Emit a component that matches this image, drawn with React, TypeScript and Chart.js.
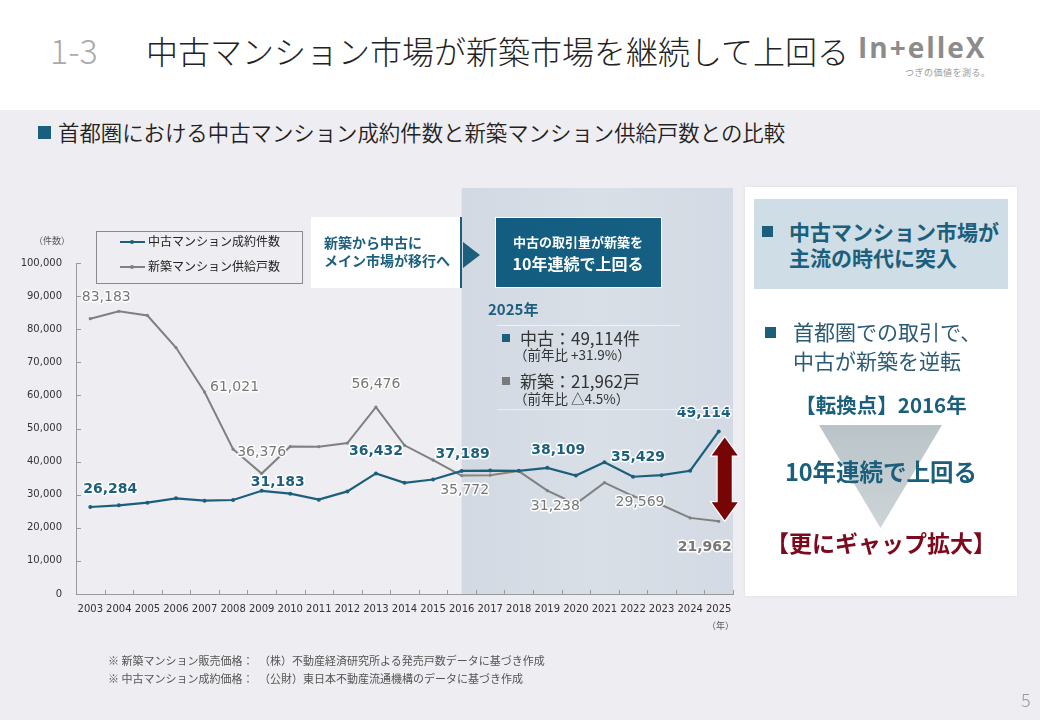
import React, { useEffect, useRef } from "react";
import { Chart, registerables } from "chart.js";

Chart.register(...registerables);

// ---------------- data ----------------
const years = [
  "2003", "2004", "2005", "2006", "2007", "2008", "2009", "2010", "2011", "2012", "2013", "2014",
  "2015", "2016", "2017", "2018", "2019", "2020", "2021", "2022", "2023", "2024", "2025",
];
// 中古マンション成約件数
const usedSales = [
  26284, 26800, 27600, 28900, 28200, 28400, 31183, 30300, 28500, 31000, 36432, 33600,
  34600, 37189, 37300, 37200, 38109, 35800, 39800, 35429, 35900, 37235, 49114,
];
// 新築マンション供給戸数
const newSupply = [
  83183, 85429, 84148, 74463, 61021, 43733, 36376, 44535, 44499, 45602, 56476, 44913,
  40449, 35772, 35898, 37132, 31238, 27228, 33636, 29569, 26886, 22997, 21962,
];
const yTickValues = [0, 10000, 20000, 30000, 40000, 50000, 60000, 70000, 80000, 90000, 100000];
const usedLabelYears = ["2003", "2009", "2013", "2016", "2019", "2022", "2025"];
const newLabelYears = ["2003", "2007", "2009", "2013", "2016", "2019", "2022", "2025"];
const seriesNames = ["中古マンション成約件数", "新築マンション供給戸数"];
const highlightFromYear = "2016";

// ---------------- styles ----------------
const TEAL = "#1c5f7c";
const GRAY = "#808080";
const LABEL_GRAY = "#777777";
const JP = '"Noto Sans CJK JP", "Noto Sans", sans-serif';
const NUM = '"DejaVu Sans", "Noto Sans", sans-serif';

// label placement per year (offsets from the point)
const usedLabelStyle: Record<string, [number, number, number]> = {
  "2003": [20, -18, 14], "2009": [16, -8, 14], "2013": [0, -22, 14], "2016": [1, -17, 14],
  "2019": [11, -17, 14], "2022": [5, -19, 14], "2025": [-15, -18, 14],
};
const newLabelStyle: Record<string, [number, number, number, boolean]> = {
  "2003": [16, -21, 14, false], "2007": [30, -5, 14, false], "2009": [0, -21, 14, false],
  "2013": [0, -23, 14, false], "2016": [3, 15, 14, false], "2019": [8, 16, 14, false],
  "2022": [7, 6, 14, false], "2025": [-14, 26, 14, true],
};

const fmt = (v: number) => v.toLocaleString("en-US");

const overlayPlugin = {
  id: "overlay",
  beforeDraw(chart: any) {
    const { ctx, chartArea, scales } = chart;
    const x0 = scales.x.getPixelForValue(years.indexOf(highlightFromYear));
    ctx.save();
    const g = ctx.createLinearGradient(x0, 0, chartArea.right, 0);
    g.addColorStop(0, "#d2d9e2");
    g.addColorStop(0.5, "#d8dfe7");
    g.addColorStop(1, "#d3dae3");
    ctx.fillStyle = g;
    ctx.fillRect(x0, 188, chartArea.right - x0, chartArea.bottom - 188);
    ctx.restore();
  },
  afterDraw(chart: any) {
    const { ctx, chartArea, scales } = chart;
    const xs = scales.x;
    const ys = scales.y;
    ctx.save();
    // tick marks (inside)
    ctx.strokeStyle = "#9a9a9a";
    ctx.lineWidth = 1;
    yTickValues.forEach((v) => {
      const y = Math.round(ys.getPixelForValue(v)) + 0.5;
      ctx.beginPath();
      ctx.moveTo(chartArea.left, y);
      ctx.lineTo(chartArea.left + 5, y);
      ctx.stroke();
    });
    for (let i = 0; i <= years.length; i++) {
      const x = Math.round(xs.getPixelForValue(i - 0.5)) + 0.5;
      ctx.beginPath();
      ctx.moveTo(x, chartArea.bottom);
      ctx.lineTo(x, chartArea.bottom - 4);
      ctx.stroke();
    }

    // double arrow between the two 2025 values
    const last = years.length - 1;
    const ax = xs.getPixelForValue(last) + 6;
    const top = ys.getPixelForValue(usedSales[last]) + 6;
    const bot = ys.getPixelForValue(newSupply[last]) - 1;
    const hw = 13, hh = 18, sw = 7;
    ctx.beginPath();
    ctx.moveTo(ax, top);
    ctx.lineTo(ax + hw, top + hh);
    ctx.lineTo(ax + sw, top + hh);
    ctx.lineTo(ax + sw, bot - hh);
    ctx.lineTo(ax + hw, bot - hh);
    ctx.lineTo(ax, bot);
    ctx.lineTo(ax - hw, bot - hh);
    ctx.lineTo(ax - sw, bot - hh);
    ctx.lineTo(ax - sw, top + hh);
    ctx.lineTo(ax - hw, top + hh);
    ctx.closePath();
    ctx.strokeStyle = "rgba(255,255,255,0.9)";
    ctx.lineWidth = 2.5;
    ctx.stroke();
    ctx.fillStyle = "#780506";
    ctx.fill();

    // data labels
    const drawLabel = (text: string, x: number, y: number, font: string, color: string) => {
      ctx.font = font;
      ctx.textAlign = "center";
      ctx.textBaseline = "middle";
      ctx.lineJoin = "round";
      ctx.strokeStyle = "rgba(255,255,255,0.95)";
      ctx.lineWidth = 3;
      ctx.strokeText(text, x, y);
      ctx.fillStyle = color;
      ctx.fillText(text, x, y);
    };
    const m0 = chart.getDatasetMeta(0);
    usedLabelYears.forEach((yr) => {
      const i = years.indexOf(yr);
      const pt = m0.data[i];
      const [dx, dy, sz] = usedLabelStyle[yr];
      drawLabel(fmt(usedSales[i]), pt.x + dx, pt.y + dy, `bold ${sz}px ${NUM}`, TEAL);
    });
    const m1 = chart.getDatasetMeta(1);
    newLabelYears.forEach((yr) => {
      const i = years.indexOf(yr);
      const pt = m1.data[i];
      const [dx, dy, sz, bold] = newLabelStyle[yr];
      drawLabel(fmt(newSupply[i]), pt.x + dx, pt.y + dy, `${bold ? "bold " : ""}${sz}px ${NUM}`, LABEL_GRAY);
    });
    ctx.restore();
  },
};

function ChartCanvas() {
  const ref = useRef<HTMLCanvasElement | null>(null);
  useEffect(() => {
    if (!ref.current) return;
    const hi = years.indexOf(highlightFromYear);
    const chart = new Chart(ref.current, {
      type: "line",
      data: {
        labels: years,
        datasets: [
          {
            label: seriesNames[0],
            data: usedSales,
            borderColor: TEAL,
            backgroundColor: TEAL,
            borderWidth: 2.2,
            pointRadius: 2,
            pointBorderWidth: 0,
            pointBackgroundColor: TEAL,
            tension: 0,
          },
          {
            label: seriesNames[1],
            data: newSupply,
            borderColor: GRAY,
            backgroundColor: GRAY,
            borderWidth: 2,
            pointRadius: 1.6,
            pointBorderWidth: 0,
            pointBackgroundColor: GRAY,
            tension: 0,
            segment: {
              borderColor: (c: any) => (c.p0DataIndex >= hi && c.p0DataIndex < hi + 2 ? "#8c8470" : GRAY),
            },
          },
        ],
      },
      options: {
        responsive: false,
        animation: false,
        events: [],
        layout: { padding: { left: 0, top: 263, right: 307, bottom: 86 } },
        plugins: { legend: { display: false }, tooltip: { enabled: false } },
        scales: {
          x: {
            type: "category",
            offset: true,
            grid: { display: false, drawTicks: false },
            border: { display: true, color: "#9a9a9a", width: 1 },
            ticks: {
              autoSkip: false,
              maxRotation: 0,
              minRotation: 0,
              padding: 9,
              color: "#333",
              font: { family: NUM, size: 10 },
            },
            afterFit: (s: any) => {
              s.height = 40;
            },
          },
          y: {
            min: 0,
            max: 100000,
            grid: { display: false, drawTicks: false },
            border: { display: true, color: "#9a9a9a", width: 1 },
            ticks: {
              stepSize: 10000,
              padding: 14,
              color: "#333",
              font: { family: NUM, size: 10 },
              callback: (v: any) => fmt(Number(v)),
            },
            afterFit: (s: any) => {
              s.width = 76;
            },
          },
        },
      },
      plugins: [overlayPlugin],
    } as any);
    return () => chart.destroy();
  }, []);
  return (
    <canvas
      ref={ref}
      width={1040}
      height={720}
      style={{ position: "absolute", left: 0, top: 0, width: 1040, height: 720 }}
    />
  );
}

const abs = (left: number, cy: number, size: number, extra: React.CSSProperties = {}): React.CSSProperties => ({
  position: "absolute",
  left,
  top: cy - size * 0.56,
  fontSize: size,
  lineHeight: 1,
  whiteSpace: "nowrap",
  fontFamily: JP,
  ...extra,
});

const center = (cx: number, cy: number, size: number, extra: React.CSSProperties = {}): React.CSSProperties => ({
  position: "absolute",
  left: cx - 200,
  width: 400,
  textAlign: "center",
  top: cy - size * 0.56,
  fontSize: size,
  lineHeight: 1,
  whiteSpace: "nowrap",
  fontFamily: JP,
  ...extra,
});

function LegendLine({ color, top }: { color: string; top: number }) {
  return (
    <>
      <div style={{ position: "absolute", left: 120, top: top - 1, width: 25, height: 2, background: color }} />
      <div style={{ position: "absolute", left: 130, top: top - 2, width: 4, height: 4, borderRadius: 2, background: color }} />
    </>
  );
}

export default function App() {
  return (
    <div
      style={{
        position: "fixed",
        left: 0,
        top: 0,
        width: 1040,
        height: 720,
        background: "#eeedf1",
        overflow: "hidden",
        fontFamily: JP,
      }}
    >
      {/* header */}
      <div style={{ position: "absolute", left: 0, top: 0, width: 1040, height: 110, background: "#ffffff" }} />
      <div style={abs(50, 52, 34, { color: "#aaaaaa", fontWeight: 300 })}>1-3</div>
      <div style={abs(146, 52, 32, { color: "#222222", fontWeight: 300 })}>中古マンション市場が新築市場を継続して上回る</div>
      <div
        style={{
          position: "absolute",
          left: 858,
          top: 33,
          fontSize: 28,
          lineHeight: 1,
          fontFamily: '"Open Sans", sans-serif',
          fontWeight: 700,
          color: "#8c8c8c",
          letterSpacing: 2,
          whiteSpace: "nowrap",
        }}
      >
        In+elleX
      </div>
      <div style={abs(905, 73, 9, { color: "#999", letterSpacing: 0.5 })}>つぎの価値を測る。</div>

      {/* subtitle */}
      <div style={{ position: "absolute", left: 38, top: 126, width: 13, height: 13, background: "#1a5f7e" }} />
      <div style={abs(58, 133, 21.4, { color: "#222", fontWeight: 350 })}>首都圏における中古マンション成約件数と新築マンション供給戸数との比較</div>

      <ChartCanvas />

      {/* axis units */}
      <div style={abs(34, 241, 9, { color: "#555" })}>（件数）</div>
      <div style={abs(707, 626, 9, { color: "#555" })}>（年）</div>

      {/* legend */}
      <div
        style={{
          position: "absolute",
          left: 96,
          top: 231,
          width: 205,
          height: 51,
          border: "1px solid #8a8a8a",
        }}
      />
      <LegendLine color={TEAL} top={242} />
      <LegendLine color={GRAY} top={267} />
      <div style={abs(148, 242, 12, { color: "#222" })}>{seriesNames[0]}</div>
      <div style={abs(148, 267, 12, { color: "#222" })}>{seriesNames[1]}</div>

      {/* callout 1 */}
      <div
        style={{
          position: "absolute",
          left: 311,
          top: 217,
          width: 149,
          height: 71,
          background: "#ffffff",
          borderRight: `2px solid ${TEAL}`,
        }}
      />
      <div style={abs(324, 243, 14, { color: TEAL, fontWeight: 700 })}>新築から中古に</div>
      <div style={abs(324, 261, 14, { color: TEAL, fontWeight: 700 })}>メイン市場が移行へ</div>
      <div
        style={{
          position: "absolute",
          left: 463,
          top: 242,
          width: 0,
          height: 0,
          borderTop: "13px solid transparent",
          borderBottom: "13px solid transparent",
          borderLeft: `17px solid ${TEAL}`,
        }}
      />

      {/* callout 2 */}
      <div
        style={{
          position: "absolute",
          left: 495,
          top: 217,
          width: 165,
          height: 69,
          background: "linear-gradient(90deg, #135d80, #155f82)",
          border: "1px solid #ffffff",
        }}
      />
      <div style={center(578, 242, 13, { color: "#fff", fontWeight: 700 })}>中古の取引量が新築を</div>
      <div style={center(578, 264, 16, { color: "#fff", fontWeight: 700 })}>10年連続で上回る</div>

      {/* 2025 summary */}
      <div style={abs(488, 309, 15, { color: TEAL, fontWeight: 700 })}>2025年</div>
      <div style={{ position: "absolute", left: 497, top: 325, width: 183, height: 1, background: "#eef2f6" }} />
      <div style={{ position: "absolute", left: 502, top: 334, width: 8, height: 8, background: TEAL }} />
      <div style={abs(520, 339, 17, { color: "#333" })}>中古：49,114件</div>
      <div style={abs(514, 356, 13.5, { color: "#333" })}>（前年比 +31.9%）</div>
      <div style={{ position: "absolute", left: 502, top: 377, width: 8, height: 8, background: "#7a7a7a" }} />
      <div style={abs(520, 382, 17, { color: "#333" })}>新築：21,962戸</div>
      <div style={abs(514, 400, 13.5, { color: "#333" })}>（前年比 △4.5%）</div>
      <div style={{ position: "absolute", left: 497, top: 409, width: 236, height: 1, background: "#e9eef3" }} />

      {/* right panel */}
      <div
        style={{
          position: "absolute",
          left: 745,
          top: 187,
          width: 272,
          height: 409,
          background: "#ffffff",
          boxShadow: "0 0 3px rgba(0,0,0,0.08)",
        }}
      />
      <div style={{ position: "absolute", left: 754, top: 199, width: 254, height: 90, background: "#cfdde7" }} />
      <div style={{ position: "absolute", left: 762, top: 226, width: 11, height: 11, background: TEAL }} />
      <div style={abs(789, 233, 21, { color: TEAL, fontWeight: 700 })}>中古マンション市場が</div>
      <div style={abs(789, 259, 21, { color: TEAL, fontWeight: 700 })}>主流の時代に突入</div>

      <div style={{ position: "absolute", left: 765, top: 327, width: 11, height: 11, background: TEAL }} />
      <div style={abs(793, 333, 21, { color: "#2a5a74" })}>首都圏での取引で、</div>
      <div style={abs(793, 362, 21, { color: "#2a5a74" })}>中古が新築を逆転</div>
      <div style={center(881, 405, 20.5, { color: TEAL, fontWeight: 700 })}>【転換点】2016年</div>

      <div
        style={{
          position: "absolute",
          left: 819,
          top: 425,
          width: 123,
          height: 103,
          background: "linear-gradient(180deg, #b9c4c9, #cdd4d7)",
          clipPath: "polygon(0 0, 100% 0, 50% 100%)",
        }}
      />
      <div style={center(881, 473, 23.5, { color: TEAL, fontWeight: 700 })}>10年連続で上回る</div>
      <div style={center(881, 544, 23, { color: "#7b0a1e", fontWeight: 700 })}>【更にギャップ拡大】</div>

      {/* footnotes */}
      <div style={abs(108, 661, 11, { color: "#555" })}>※ 新築マンション販売価格：　（株）不動産経済研究所よる発売戸数データに基づき作成</div>
      <div style={abs(108, 679, 11, { color: "#555" })}>※ 中古マンション成約価格：　（公財）東日本不動産流通機構のデータに基づき作成</div>
      <div style={abs(1021, 700, 18, { color: "#999", fontWeight: 300 })}>5</div>
    </div>
  );
}
